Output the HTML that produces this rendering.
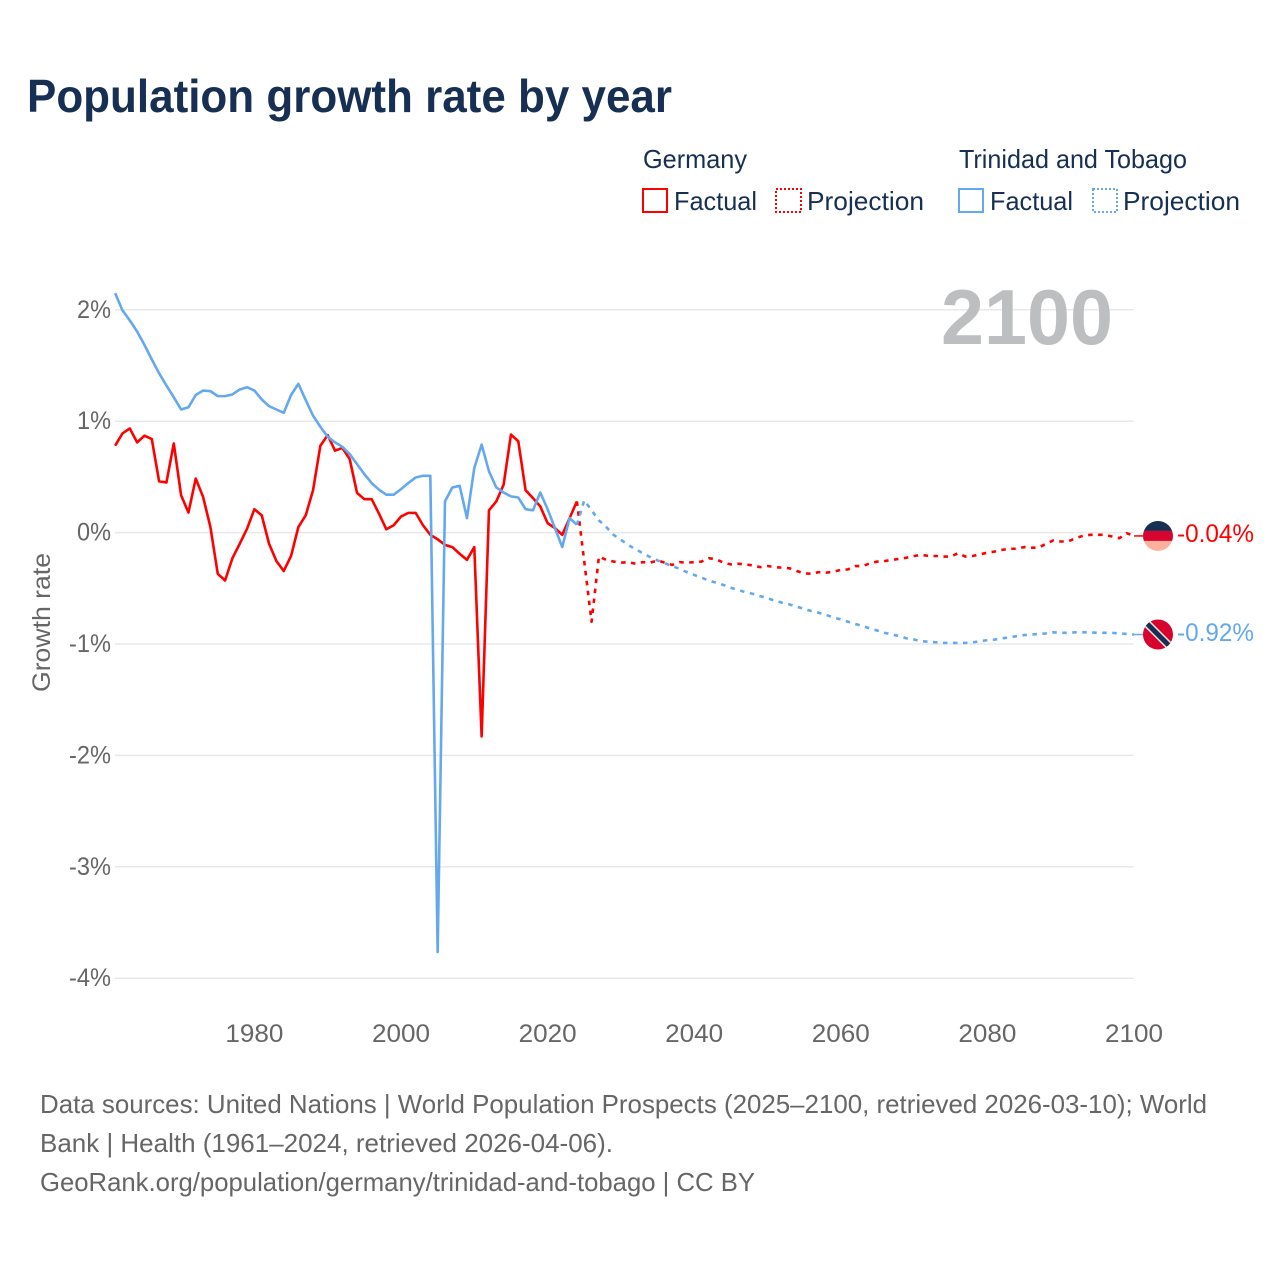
<!DOCTYPE html>
<html lang="en">
<head>
<meta charset="utf-8">
<title>Population growth rate by year</title>
<style>
html,body{margin:0;padding:0;background:#fff;}
svg{display:block;}
text{font-family:"Liberation Sans",sans-serif;}
</style>
</head>
<body>
<svg id="chart" xmlns="http://www.w3.org/2000/svg" width="1280" height="1280" viewBox="0 0 1280 1280">
  <rect x="0" y="0" width="1280" height="1280" fill="#ffffff"/>
  <text x="27" y="112" font-size="46" font-weight="700" fill="#172f53" textLength="645" lengthAdjust="spacingAndGlyphs">Population growth rate by year</text>

  <g font-size="26" fill="#172f53">
    <text x="643" y="168" textLength="104" lengthAdjust="spacingAndGlyphs">Germany</text>
    <text x="959" y="168" textLength="228" lengthAdjust="spacingAndGlyphs">Trinidad and Tobago</text>
    <rect x="643" y="189" width="24" height="23" fill="none" stroke="#ff0000" stroke-width="2"/>
    <text x="674" y="210" textLength="83" lengthAdjust="spacingAndGlyphs">Factual</text>
    <rect x="776" y="189" width="25" height="23" fill="none" stroke="#ff0000" stroke-width="2" stroke-dasharray="2 2"/>
    <text x="807" y="210" textLength="117" lengthAdjust="spacingAndGlyphs">Projection</text>
    <rect x="959" y="189" width="24" height="23" fill="none" stroke="#64a8ee" stroke-width="2"/>
    <text x="990" y="210" textLength="83" lengthAdjust="spacingAndGlyphs">Factual</text>
    <rect x="1093" y="189" width="24" height="23" fill="none" stroke="#64a8ee" stroke-width="2" stroke-dasharray="2 2"/>
    <text x="1123" y="210" textLength="117" lengthAdjust="spacingAndGlyphs">Projection</text>
  </g>

  <g id="grid"></g>
  <text x="941" y="344" font-size="78" font-weight="700" fill="#bcbec0" textLength="172" lengthAdjust="spacingAndGlyphs">2100</text>
  <g id="yticks" font-size="25" fill="#666666" text-anchor="end"></g>
  <g id="xticks" font-size="25" fill="#666666" text-anchor="middle"></g>
  <text transform="translate(50,692) rotate(-90)" font-size="25" fill="#666666" textLength="139" lengthAdjust="spacingAndGlyphs">Growth rate</text>
  <g id="series" fill="none" stroke-width="2.6" stroke-linejoin="round"></g>
  <g id="ends"></g>

  <g font-size="26" fill="#666666">
    <text x="40" y="1113" textLength="1167" lengthAdjust="spacingAndGlyphs">Data sources: United Nations | World Population Prospects (2025–2100, retrieved 2026-03-10); World</text>
    <text x="40" y="1152" textLength="573" lengthAdjust="spacingAndGlyphs">Bank | Health (1961–2024, retrieved 2026-04-06).</text>
    <text x="40" y="1191" textLength="715" lengthAdjust="spacingAndGlyphs">GeoRank.org/population/germany/trinidad-and-tobago | CC BY</text>
  </g>
</svg>
<script>
const yTickValues = [2, 1, 0, -1, -2, -3, -4];
const xTickYears = [1980, 2000, 2020, 2040, 2060, 2080, 2100];
const factualStartYear = 1961;
const projectionStartYear = 2024;
const germanyFactual = [0.78,0.89,0.935,0.81,0.87,0.84,0.46,0.45,0.80,0.335,0.18,0.485,0.32,0.05,-0.37,-0.43,-0.23,-0.10,0.035,0.21,0.155,-0.10,-0.255,-0.345,-0.21,0.05,0.155,0.38,0.78,0.875,0.735,0.76,0.66,0.357,0.30,0.30,0.17,0.03,0.066,0.144,0.177,0.177,0.066,-0.02,-0.06,-0.11,-0.13,-0.19,-0.245,-0.13,-1.83,0.20,0.28,0.43,0.88,0.82,0.38,0.31,0.235,0.085,0.04,-0.02,0.13,0.28];
const trinidadFactual = [2.15,1.995,1.905,1.805,1.685,1.555,1.43,1.32,1.215,1.105,1.125,1.235,1.275,1.27,1.225,1.225,1.24,1.285,1.305,1.275,1.195,1.135,1.105,1.075,1.235,1.335,1.19,1.05,0.95,0.86,0.81,0.77,0.705,0.615,0.525,0.445,0.385,0.34,0.34,0.39,0.445,0.495,0.51,0.51,-3.765,0.28,0.405,0.42,0.13,0.58,0.79,0.55,0.405,0.36,0.325,0.315,0.21,0.20,0.36,0.21,0.04,-0.13,0.13,0.07];
const germanyProjection = [0.28,-0.26,-0.80,-0.215,-0.245,-0.26,-0.27,-0.265,-0.28,-0.265,-0.27,-0.25,-0.27,-0.29,-0.265,-0.27,-0.265,-0.26,-0.23,-0.24,-0.27,-0.285,-0.28,-0.285,-0.295,-0.31,-0.30,-0.31,-0.315,-0.32,-0.345,-0.365,-0.37,-0.355,-0.36,-0.35,-0.335,-0.33,-0.30,-0.30,-0.275,-0.26,-0.255,-0.245,-0.235,-0.225,-0.21,-0.20,-0.21,-0.21,-0.215,-0.215,-0.185,-0.215,-0.21,-0.195,-0.18,-0.17,-0.155,-0.145,-0.145,-0.13,-0.135,-0.135,-0.10,-0.07,-0.08,-0.08,-0.05,-0.03,-0.02,-0.02,-0.02,-0.035,-0.05,-0.005,-0.03];
const trinidadProjection = [0.07,0.29,0.20,0.11,0.05,-0.02,-0.065,-0.11,-0.15,-0.185,-0.22,-0.25,-0.275,-0.30,-0.325,-0.355,-0.38,-0.405,-0.43,-0.45,-0.47,-0.495,-0.515,-0.535,-0.55,-0.57,-0.59,-0.61,-0.63,-0.645,-0.665,-0.685,-0.705,-0.72,-0.74,-0.76,-0.78,-0.80,-0.82,-0.84,-0.86,-0.88,-0.90,-0.915,-0.93,-0.95,-0.96,-0.975,-0.98,-0.985,-0.99,-0.99,-0.99,-0.99,-0.985,-0.975,-0.965,-0.96,-0.95,-0.94,-0.93,-0.92,-0.915,-0.91,-0.905,-0.895,-0.90,-0.90,-0.895,-0.895,-0.895,-0.90,-0.90,-0.90,-0.905,-0.91,-0.915];
const germanyEndLabel = "-0.04%";
const trinidadEndLabel = "-0.92%";

const NS = "http://www.w3.org/2000/svg";
const RED = "#ff0000";
const BLUE = "#64a8ee";
const plotLeft = 115;
const plotRight = 1133.5;
const endYear = 2100;
const pxPerYear = 7.33;
const pxPerPoint = 111.4;
const zeroY = 532.6;
function xScale(year) { return 1134 - (endYear - year) * pxPerYear; }
function yScale(value) { return zeroY - value * pxPerPoint; }
function make(tag, parent, attrs) {
  const el = document.createElementNS(NS, tag);
  for (const k in attrs) el.setAttribute(k, attrs[k]);
  parent.appendChild(el);
  return el;
}
const gridG = document.getElementById("grid");
const yG = document.getElementById("yticks");
const xG = document.getElementById("xticks");
const seriesG = document.getElementById("series");
const endsG = document.getElementById("ends");

yTickValues.forEach(function (v) {
  const line = make("line", gridG, { x1: plotLeft, x2: plotRight, y1: yScale(v), y2: yScale(v), stroke: "#e8e8e8", "stroke-width": 1.5 });
  
  
  const label = make("text", yG, { x: 111, y: yScale(v) + 8, textLength: v < 0 ? 42 : 34, lengthAdjust: "spacingAndGlyphs" });
  label.textContent = v + "%";
  
  
});
xTickYears.forEach(function (year) {
  const label = make("text", xG, { x: xScale(year), y: 1042, textLength: 58, lengthAdjust: "spacingAndGlyphs" });
  label.textContent = String(year);
  
  
});
function linePoints(values, startYear) {
  return values.map(function (v, i) {
    return xScale(startYear + i).toFixed(2) + "," + yScale(v).toFixed(2);
  }).join(" ");
}
const germanyFactualLine = make("polyline", seriesG, { points: linePoints(germanyFactual, factualStartYear), stroke: RED });


const germanyProjectionLine = make("polyline", seriesG, { points: linePoints(germanyProjection, projectionStartYear), stroke: RED, "stroke-dasharray": "4.5 5.5" });


const trinidadFactualLine = make("polyline", seriesG, { points: linePoints(trinidadFactual, factualStartYear), stroke: BLUE });


const trinidadProjectionLine = make("polyline", seriesG, { points: linePoints(trinidadProjection, projectionStartYear), stroke: BLUE, "stroke-dasharray": "4.5 5.5" });



const flagX = 1158;
const flagR = 15;
const germanyEndY = yScale(germanyProjection[germanyProjection.length - 1]);
const trinidadEndY = yScale(trinidadProjection[trinidadProjection.length - 1]);

const germanyConnector = make("line", endsG, { x1: 1134, x2: flagX - flagR, y1: germanyEndY, y2: germanyEndY, stroke: RED, "stroke-width": 1.5 });


const trinidadConnector = make("line", endsG, { x1: 1134, x2: flagX - flagR, y1: trinidadEndY, y2: trinidadEndY, stroke: BLUE, "stroke-width": 1.5 });



const defs = make("defs", endsG, {});
const clipDe = make("clipPath", defs, { id: "clip-de" });
make("circle", clipDe, { cx: flagX, cy: germanyEndY, r: flagR });
const clipTt = make("clipPath", defs, { id: "clip-tt" });
make("circle", clipTt, { cx: flagX, cy: trinidadEndY, r: flagR });

const flagDe = make("g", endsG, { "clip-path": "url(#clip-de)" });


make("rect", flagDe, { x: flagX - flagR, y: germanyEndY - flagR, width: 2 * flagR, height: 10, fill: "#172f53" });
make("rect", flagDe, { x: flagX - flagR, y: germanyEndY - 5, width: 2 * flagR, height: 10, fill: "#d6042f" });
make("rect", flagDe, { x: flagX - flagR, y: germanyEndY + 5, width: 2 * flagR, height: 10, fill: "#ffb09c" });

const flagTt = make("g", endsG, { "clip-path": "url(#clip-tt)" });


make("rect", flagTt, { x: flagX - flagR, y: trinidadEndY - flagR, width: 2 * flagR, height: 2 * flagR, fill: "#d6042f" });
make("line", flagTt, { x1: flagX - 13, y1: trinidadEndY - 13, x2: flagX + 13, y2: trinidadEndY + 13, stroke: "#f0e4e0", "stroke-width": 8 });
make("line", flagTt, { x1: flagX - 13, y1: trinidadEndY - 13, x2: flagX + 13, y2: trinidadEndY + 13, stroke: "#172f53", "stroke-width": 5 });

const germanyValue = make("text", endsG, { x: 1177, y: germanyEndY + 6, "font-size": 25, fill: RED, textLength: 77, lengthAdjust: "spacingAndGlyphs" });
germanyValue.textContent = germanyEndLabel;


const trinidadValue = make("text", endsG, { x: 1177, y: trinidadEndY + 6.5, "font-size": 25, fill: BLUE, textLength: 77, lengthAdjust: "spacingAndGlyphs" });
trinidadValue.textContent = trinidadEndLabel;


</script>
</body>
</html>
